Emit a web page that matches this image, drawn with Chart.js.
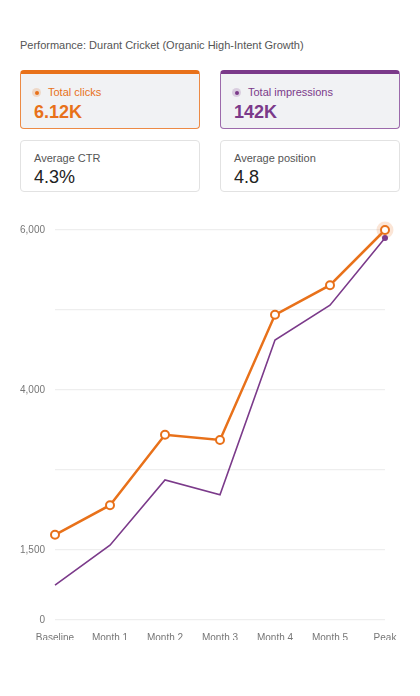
<!DOCTYPE html>
<html>
<head>
<meta charset="utf-8">
<script src="https://cdn.jsdelivr.net/npm/chart.js@4"></script>
<style>
  body { margin: 0; background: #fff; font-family: "Liberation Sans", Arial, sans-serif; }
  .wrap { position: relative; width: 420px; height: 696px; }
  .titulo { position: absolute; left: 20px; top: 39px; font-size: 11px; color: #555; }
  .card { position: absolute; width: 180px; box-sizing: border-box; border-radius: 4px; }
  .card .lbl { position: absolute; font-size: 11px; }
  .card .val { position: absolute; font-size: 18px; }
  .c1 { left: 20px; top: 70px; height: 59px; background: #f1f2f4; border: 1.5px solid #ec8a45; border-top: 4px solid #e8711a; }
  .c2 { left: 220px; top: 70px; height: 59px; background: #f1f2f4; border: 1.5px solid #9c6aab; border-top: 4px solid #7b3a8a; }
  .c3 { left: 20px; top: 140px; height: 52px; background: #fff; border: 1px solid #e2e2e2; }
  .c4 { left: 220px; top: 140px; height: 52px; background: #fff; border: 1px solid #e2e2e2; }
  .dot { position: absolute; left: 11px; top: 14px; width: 9px; height: 9px; border-radius: 50%; }
  .dot::after { content: ''; position: absolute; left: 2.5px; top: 2.5px; width: 4px; height: 4px; border-radius: 50%; background: currentColor; }
  .c1 .dot { color: #e8711a; background: rgba(232,113,26,0.2); }
  .c2 .dot { color: #7b3a8a; background: rgba(123,58,138,0.2); }
  .c1 .lbl, .c2 .lbl { left: 27px; top: 12px; }
  .c1 .val, .c2 .val { left: 13px; top: 28px; font-weight: bold; }
  .c1 .lbl, .c1 .val { color: #e8711a; }
  .c2 .lbl, .c2 .val { color: #7b3a8a; }
  .c3 .lbl, .c4 .lbl { left: 13px; top: 11px; color: #555; }
  .c3 .val, .c4 .val { left: 13px; top: 26px; color: #222; }
  .grafico { position: absolute; left: 0; top: 210px; width: 420px; height: 450px; }
</style>
</head>
<body>
<div class="wrap">
  <div class="titulo">Performance: Durant Cricket (Organic High-Intent Growth)</div>
  <div class="card c1"><span class="dot"></span><span class="lbl">Total clicks</span><span class="val">6.12K</span></div>
  <div class="card c2"><span class="dot"></span><span class="lbl">Total impressions</span><span class="val">142K</span></div>
  <div class="card c3"><span class="lbl">Average CTR</span><span class="val">4.3%</span></div>
  <div class="card c4"><span class="lbl">Average position</span><span class="val">4.8</span></div>
  <div class="grafico"><canvas id="chart"></canvas></div>
</div>
<script>
// dados (unidades do eixo)
const periodos = ['Baseline', 'Month 1', 'Month 2', 'Month 3', 'Month 4', 'Month 5', 'Peak'];
const cliques = [2190, 2560, 3440, 3375, 4940, 5310, 6000];
const impressoes = [1560, 2060, 2875, 2690, 4625, 5060, 5900];
const ticksY = [1125, 2000, 3000, 4000, 5000, 6000];
const rotulosY = ['0', '1,500', '', '4,000', '', '6,000'];

const LARANJA = '#e8711a';
const ROXO = '#7b3a8a';

// halo no ultimo ponto de cliques
const haloPico = {
  id: 'haloPico',
  beforeDatasetsDraw(chart) {
    const pt = chart.getDatasetMeta(0).data[periodos.length - 1];
    if (!pt) return;
    const ctx = chart.ctx;
    ctx.save();
    ctx.beginPath();
    ctx.arc(pt.x, pt.y, 8.5, 0, Math.PI * 2);
    ctx.fillStyle = 'rgba(232,113,26,0.18)';
    ctx.fill();
    ctx.restore();
  }
};

const ultimo = periodos.length - 1;

new Chart(document.getElementById('chart'), {
  type: 'line',
  data: {
    labels: periodos,
    datasets: [
      {
        label: 'Clicks', data: cliques,
        borderColor: LARANJA, backgroundColor: '#fff',
        borderWidth: 2.5, pointRadius: 4, pointBorderWidth: 2,
        pointBorderColor: LARANJA, pointBackgroundColor: '#fff',
        tension: 0, clip: false, order: 1
      },
      {
        label: 'Impressions', data: impressoes,
        borderColor: ROXO, backgroundColor: ROXO,
        borderWidth: 1.6,
        pointRadius: ctx => ctx.dataIndex === ultimo ? 3 : 0,
        pointBorderWidth: 0, pointBackgroundColor: ROXO,
        tension: 0, clip: false, order: 2
      }
    ]
  },
  options: {
    responsive: true,
    maintainAspectRatio: false,
    animation: false,
    layout: { padding: { left: 20, top: 20, right: 35, bottom: 20 } },
    plugins: { legend: { display: false }, tooltip: { enabled: false } },
    scales: {
      x: {
        offset: false,
        grid: { display: false, drawTicks: false },
        border: { display: false },
        ticks: { color: '#777', font: { size: 10, family: 'Liberation Sans, Arial' }, padding: 12, maxRotation: 0, autoSkip: false },
        afterFit(s) { s.height = 20; }
      },
      y: {
        min: ticksY[0], max: ticksY[ticksY.length - 1],
        afterBuildTicks(s) { s.ticks = ticksY.map(v => ({ value: v })); },
        grid: { color: '#eeeeee', lineWidth: 1.2, drawTicks: false },
        border: { display: false },
        ticks: {
          color: '#777', font: { size: 10, family: 'Liberation Sans, Arial' }, padding: 10,
          callback: (v) => { const i = ticksY.indexOf(v); return i >= 0 ? rotulosY[i] : ''; }
        },
        afterFit(s) { s.width = 35; }
      }
    }
  },
  plugins: [haloPico]
});
</script>
</body>
</html>
